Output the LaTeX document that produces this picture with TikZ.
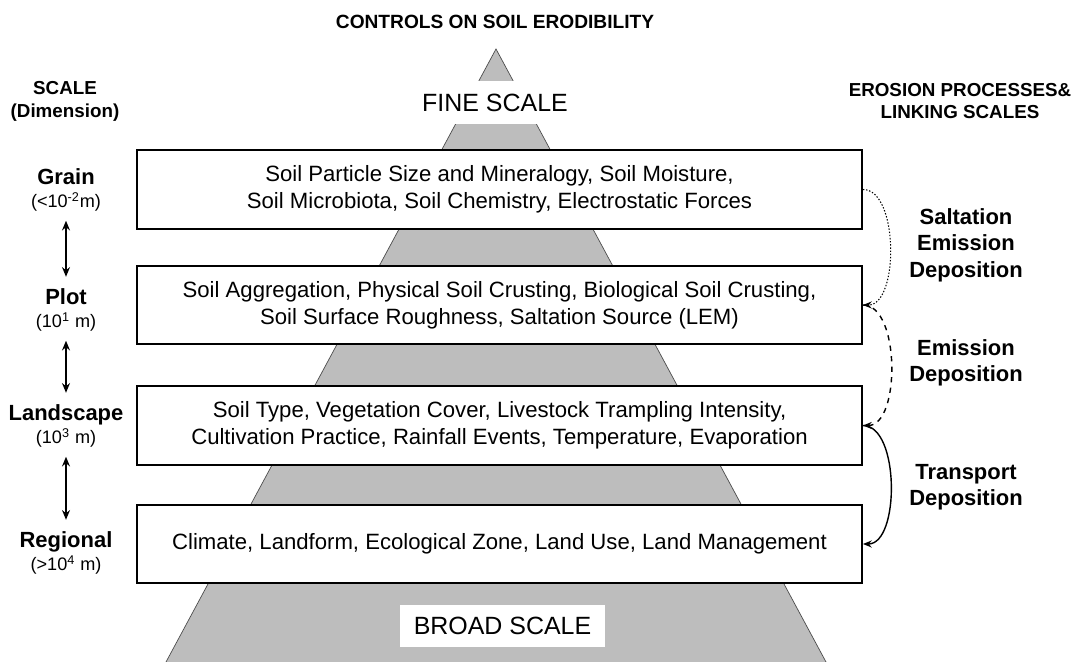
\documentclass[tikz,border=0pt]{standalone}
\usepackage{fontspec}
\setmainfont{Liberation Sans}
\usetikzlibrary{arrows.meta, positioning}
\definecolor{pyramidgrey}{rgb}{0.74, 0.74, 0.74}
\definecolor{pyramidedge}{rgb}{0.30, 0.30, 0.30}

\begin{document}
\begin{tikzpicture}[x=0.02cm, y=-0.02cm,
    factor/.style = {draw, line width=1.15pt, fill=white, align=center,
      minimum width=14.5cm, minimum height=1.57cm, inner sep=0pt,
      font=\fontsize{12.6}{15.3}\selectfont},
    scalename/.style = {font=\bfseries\fontsize{12.5}{15}\selectfont,
      inner sep=1pt, text height=9.2pt, text depth=2.7pt},
    scaledim/.style = {font=\fontsize{10.3}{12}\selectfont,
      inner sep=1pt, text height=7.6pt, text depth=2.2pt},
    process/.style = {align=center, font=\bfseries\fontsize{12.5}{15.1}\selectfont},
    heading/.style = {align=center, font=\bfseries\fontsize{10.7}{13}\selectfont},
    band/.style = {fill=white, inner sep=0pt, font=\fontsize{14.2}{16}\selectfont},
    link/.style = {-{Stealth[length=5pt, width=4pt]}, line width=0.8pt,
      out=0, in=0, looseness=0.8},
    updown/.style = {{Stealth[length=5.5pt, width=4.5pt]}-{Stealth[length=5.5pt, width=4.5pt]},
      line width=0.85pt, shorten <=4pt, shorten >=5.5pt}]
  \useasboundingbox (0,0) rectangle (1072,662);

  % grey pyramid behind the boxes
  \fill[pyramidgrey] (496,49) -- (826,662) -- (166,662) -- cycle;
  \draw[pyramidedge, line width=0.4pt] (166,662) -- (496,49) -- (826,662);

  \node[heading, font=\bfseries\fontsize{10.9}{12}\selectfont] (title) at (495,22) {CONTROLS ON SOIL ERODIBILITY};
  \node[band, minimum width=4cm, minimum height=0.86cm] (fine) at (495,102.5) {FINE SCALE};
  \node[band, minimum width=4.1cm, minimum height=0.84cm] (broad) at (502.5,626) {BROAD SCALE};

  \node[heading] (scale) at (65,101) {SCALE\\(Dimension)};
  \node[heading] (linking) at (960,101) {EROSION PROCESSES\&\\LINKING SCALES};

  % controls at each scale
  \node[factor] (B1) at (499.5,189.5) {Soil Particle Size and Mineralogy, Soil Moisture,\\Soil Microbiota, Soil Chemistry, Electrostatic Forces};
  \node[factor] (B2) at (499.5,305) {Soil Aggregation, Physical Soil Crusting, Biological Soil Crusting,\\Soil Surface Roughness, Saltation Source (LEM)};
  \node[factor] (B3) at (499.5,425.5) {Soil Type, Vegetation Cover, Livestock Trampling Intensity,\\Cultivation Practice, Rainfall Events, Temperature, Evaporation};
  \node[factor] (B4) at (499.5,544) {Climate, Landform, Ecological Zone, Land Use, Land Management};

  % scale names on the left
  \foreach \n/\name/\dim/\y in {1/Grain/{(<10\textsuperscript{-2}m)}/179,
      2/Plot/{(10\textsuperscript{1} m)}/299,
      3/Landscape/{(10\textsuperscript{3} m)}/415,
      4/Regional/{(>10\textsuperscript{4} m)}/542}{
    \node[scalename] (N\n) at (66,\y) {\name};
    \node[scaledim] (D\n) at (66,\y+24) {\dim};
  }
  \draw[updown] (D1) -- (N2);
  \draw[updown] (D2) -- (N3);
  \draw[updown] (D3) -- (N4);

  % processes on the right
  \node[process] (P1) at (966,245) {Saltation\\Emission\\Deposition};
  \node[process] (P2) at (966,363) {Emission\\Deposition};
  \node[process] (P3) at (966,487) {Transport\\Deposition};
  \draw[link, densely dotted, line width=0.6pt] (B1.east) to (B2.east);
  \draw[link, dashed] (B2.east) to (B3.east);
  \draw[link] (B3.east) to (B4.east);
\end{tikzpicture}
\end{document}
